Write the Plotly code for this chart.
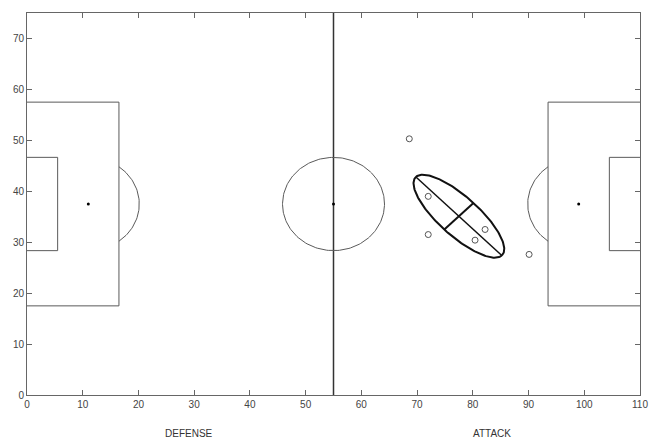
import numpy as np
import plotly.graph_objects as go

# ---- data ----
player_x = [68.6, 72.0, 72.0, 80.4, 82.2, 90.1]
player_y = [50.3, 39.0, 31.5, 30.4, 32.5, 27.6]

ellipse_center = [77.5, 35.1]
ellipse_semi_major = 10.9
ellipse_semi_minor = 3.7
ellipse_angle_deg = -45.0

x_ticks = list(range(0, 111, 10))
y_ticks = list(range(0, 71, 10))
zone_labels = ["DEFENSE", "ATTACK"]
zone_label_x = [29.0, 83.5]

# pitch geometry (metres)
L, W = 110.0, 75.0
cy = W / 2
pen_depth, pen_half = 16.5, 20.0
goal_depth, goal_half = 5.5, 9.16
spot_dist = 11.0
R = 9.15

line_col = "#5a5a5a"
fig = go.Figure()

def seg(xs, ys, color=line_col, width=1):
    fig.add_trace(go.Scatter(x=xs, y=ys, mode="lines", line=dict(color=color, width=width),
                             hoverinfo="skip", showlegend=False))

# boxes
for side in (0, 1):
    if side == 0:
        x0, sgn = 0.0, 1
    else:
        x0, sgn = L, -1
    seg([x0, x0 + sgn * pen_depth, x0 + sgn * pen_depth, x0],
        [cy + pen_half, cy + pen_half, cy - pen_half, cy - pen_half])
    seg([x0, x0 + sgn * goal_depth, x0 + sgn * goal_depth, x0],
        [cy + goal_half, cy + goal_half, cy - goal_half, cy - goal_half])
    # penalty arc
    sx = x0 + sgn * spot_dist
    th = np.arccos(5.5 / R)
    t = np.linspace(-th, th, 60)
    seg(sx + sgn * R * np.cos(t), cy + R * np.sin(t))
    # spot
    fig.add_trace(go.Scatter(x=[sx], y=[cy], mode="markers",
                             marker=dict(color="black", size=3), hoverinfo="skip", showlegend=False))

# halfway line
seg([L / 2, L / 2], [0, W], color="#333333", width=1.5)
# center circle
t = np.linspace(0, 2 * np.pi, 200)
seg(L / 2 + R * np.cos(t), cy + R * np.sin(t))
fig.add_trace(go.Scatter(x=[L / 2], y=[cy], mode="markers",
                         marker=dict(color="black", size=3), hoverinfo="skip", showlegend=False))

# players
fig.add_trace(go.Scatter(x=player_x, y=player_y, mode="markers",
                         marker=dict(symbol="circle-open", size=6, color="#555555", line=dict(width=1)),
                         showlegend=False))

# ellipse
a = np.deg2rad(ellipse_angle_deg)
ex = ellipse_center[0] + ellipse_semi_major * np.cos(t) * np.cos(a) - ellipse_semi_minor * np.sin(t) * np.sin(a)
ey = ellipse_center[1] + ellipse_semi_major * np.cos(t) * np.sin(a) + ellipse_semi_minor * np.sin(t) * np.cos(a)
seg(ex, ey, color="#111111", width=2)
seg([ellipse_center[0] - ellipse_semi_major * np.cos(a), ellipse_center[0] + ellipse_semi_major * np.cos(a)],
    [ellipse_center[1] - ellipse_semi_major * np.sin(a), ellipse_center[1] + ellipse_semi_major * np.sin(a)],
    color="#111111", width=1.5)
seg([ellipse_center[0] + ellipse_semi_minor * np.sin(a), ellipse_center[0] - ellipse_semi_minor * np.sin(a)],
    [ellipse_center[1] - ellipse_semi_minor * np.cos(a), ellipse_center[1] + ellipse_semi_minor * np.cos(a)],
    color="#111111", width=2)

for lab, lx in zip(zone_labels, zone_label_x):
    fig.add_annotation(x=lx, xref="x", y=-0.10, yref="paper", text=lab, showarrow=False,
                       font=dict(size=10, color="#333333", family="Liberation Sans, Arial"),
                       yanchor="middle")

axis_common = dict(showgrid=False, zeroline=False, showline=True, linecolor="#666666", linewidth=1,
                   mirror="ticks", ticks="inside", ticklen=5, tickcolor="#666666", automargin=False,
                   tickfont=dict(size=10, color="#444444", family="Liberation Sans, Arial"))
fig.update_xaxes(range=[0, L], tickvals=x_ticks, **axis_common)
fig.update_yaxes(range=[0, W], tickvals=y_ticks, **axis_common)
fig.update_layout(width=649, height=441, margin=dict(l=27, r=9, t=13, b=46),
                  plot_bgcolor="white", paper_bgcolor="white")
fig.write_html("out.html")
